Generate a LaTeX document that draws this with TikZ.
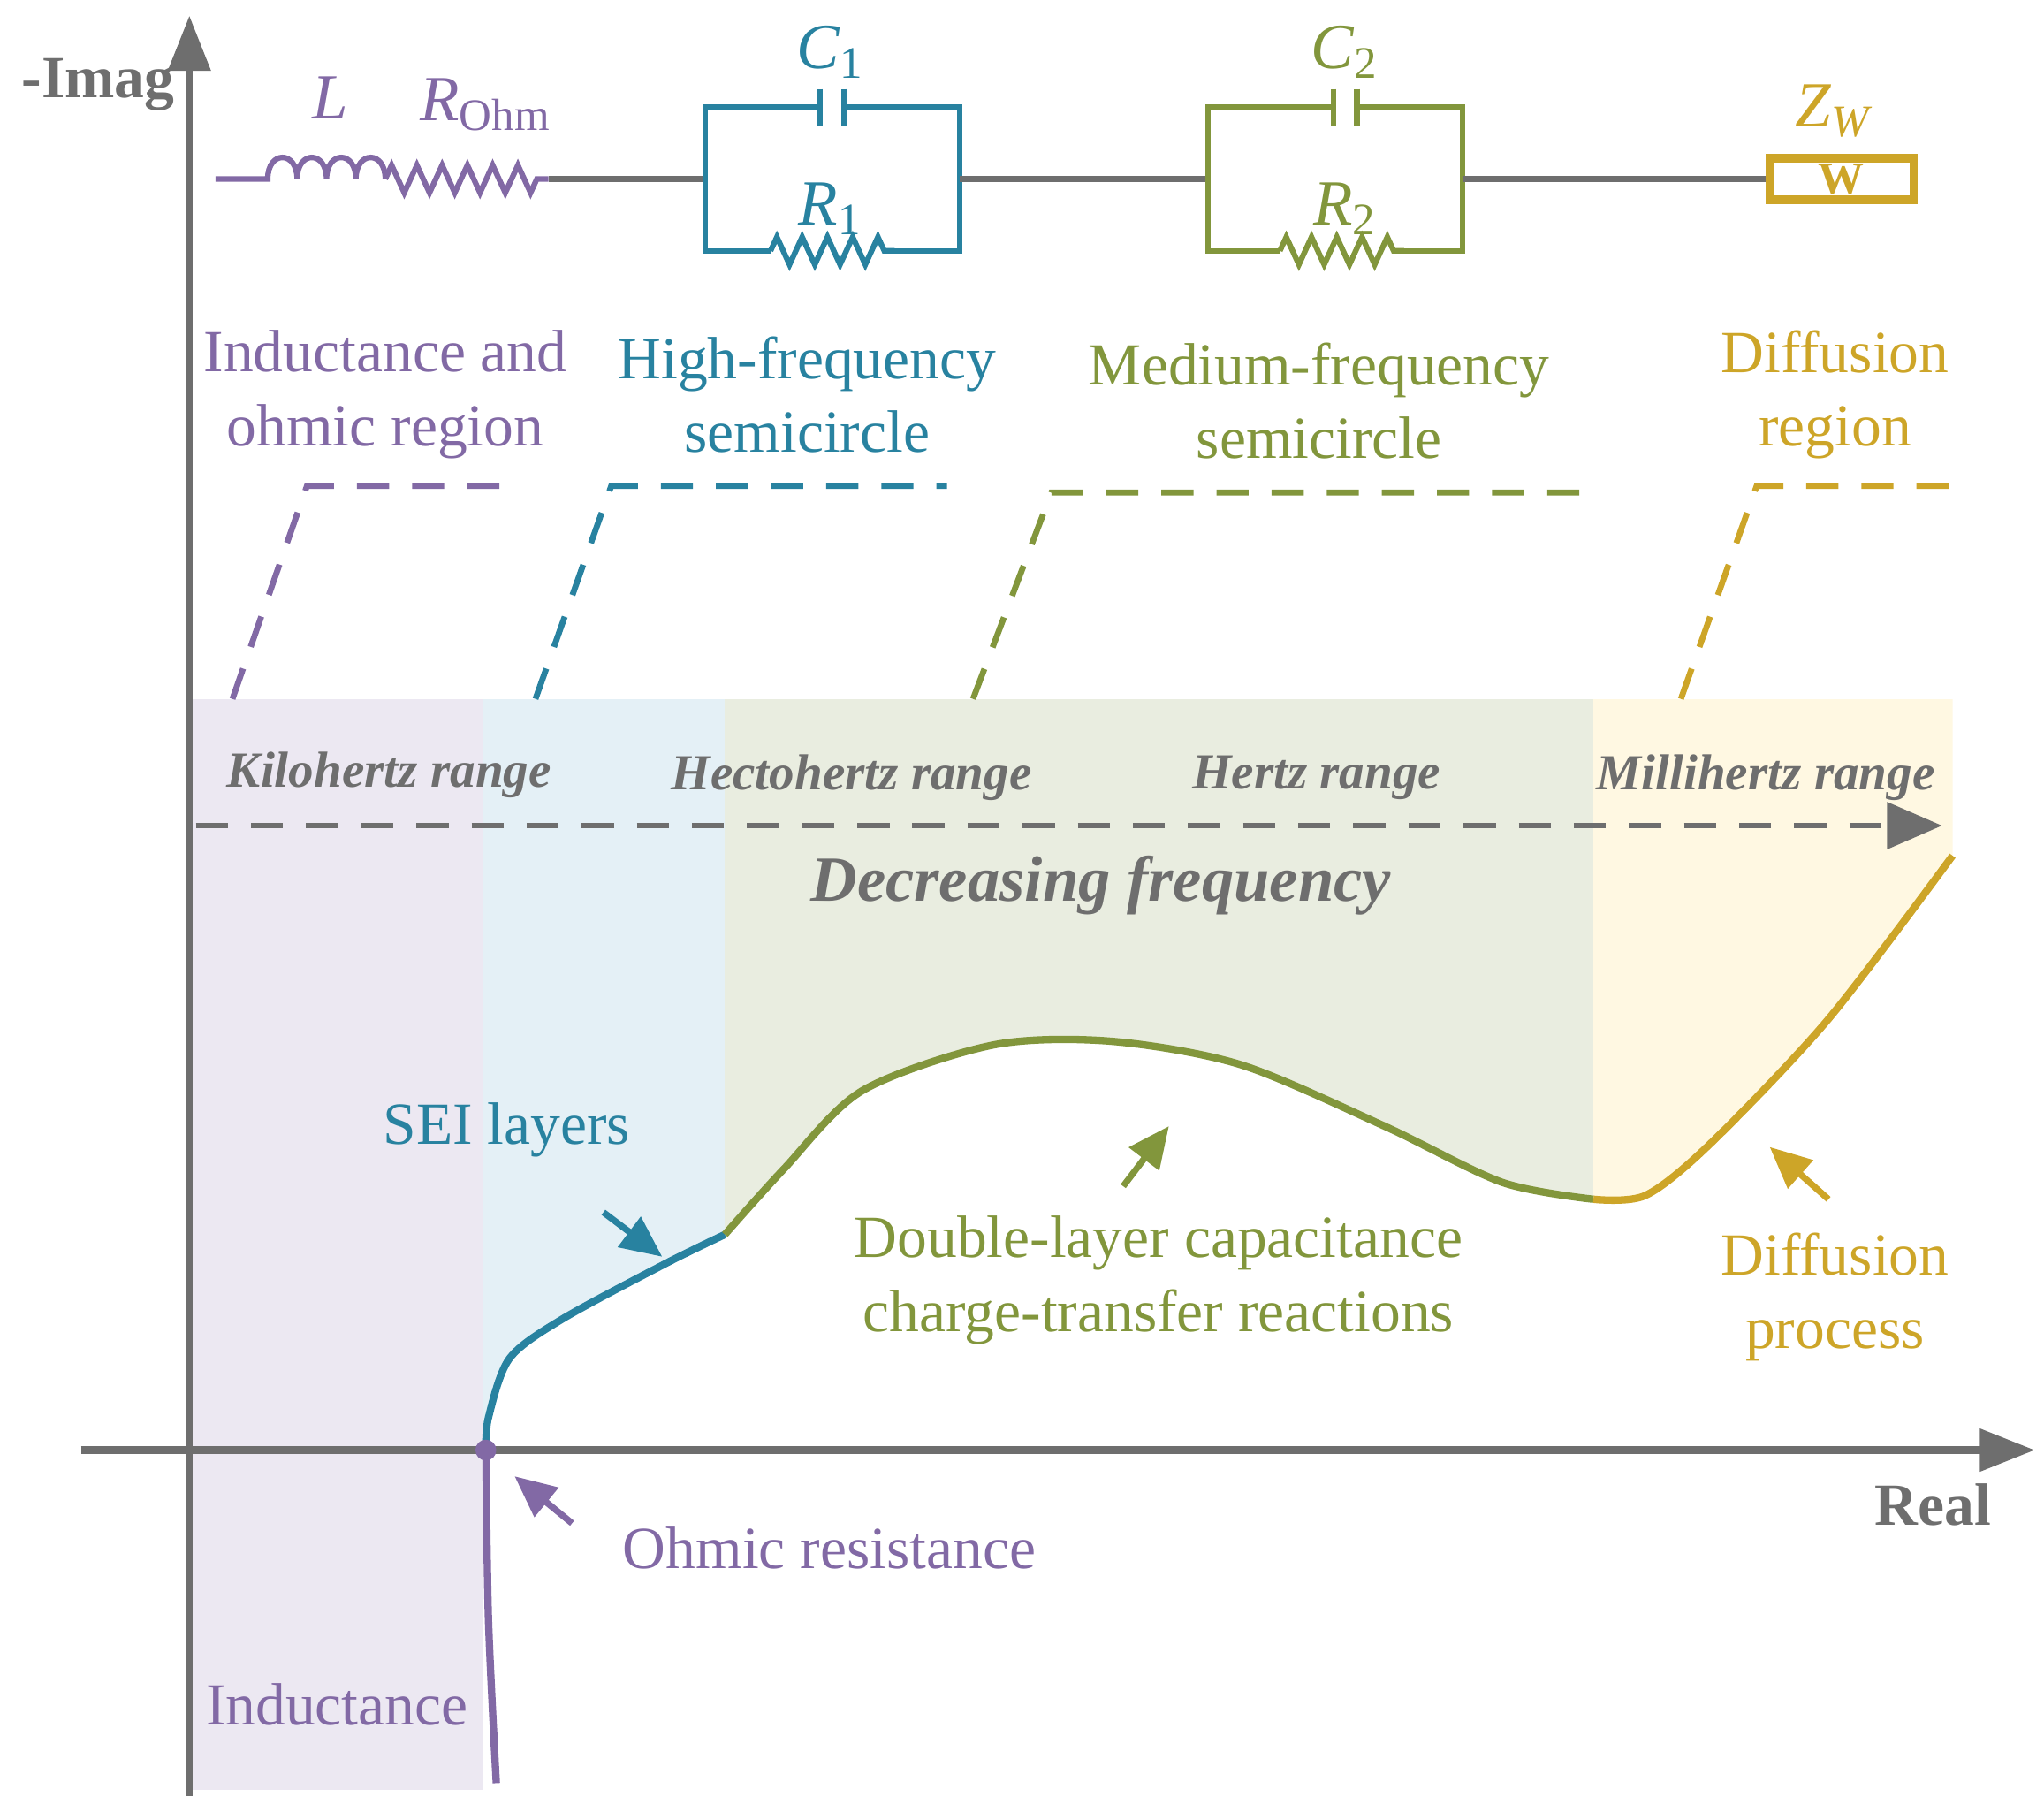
\documentclass[tikz,border=0pt]{standalone}
\usepackage{fontspec}
\setmainfont{Liberation Serif}
\usetikzlibrary{decorations.pathmorphing,arrows.meta}
\definecolor{cpur}{RGB}{130,105,165}
\definecolor{cteal}{RGB}{40,130,160}
\definecolor{cgrn}{RGB}{130,150,60}
\definecolor{cgold}{RGB}{205,165,40}
\definecolor{cgray}{RGB}{110,110,110}
\definecolor{fpur}{RGB}{236,232,242}
\definecolor{fteal}{RGB}{228,240,246}
\definecolor{fgrn}{RGB}{233,237,224}
\definecolor{fgold}{RGB}{255,248,226}
\begin{document}
\begin{tikzpicture}[x=0.01cm,y=-0.01cm,
  lbl/.style={font=\fontsize{13}{16}\selectfont,align=center},
  freq/.style={font=\fontsize{11}{13}\selectfont\bfseries\itshape,text=cgray},
  res/.style={decorate,decoration={zigzag,segment length=5.5pt,amplitude=3pt},line width=1.2pt},
  wire/.style={line width=1.2pt},
  dsh/.style={dashed,line width=1.3pt,dash pattern=on 7pt off 5pt},
  arr/.style={-{Triangle[length=9pt,width=8pt]},line width=1.4pt}]
\useasboundingbox (0,0) rectangle (1565,1387);
% shading
\fill[fpur] (145,535) rectangle (370,1370);
\begin{scope}
\clip (370,535) -- (1495,535) -- (1495,655) -- plot[smooth] coordinates {(1495,655)(1400,780)(1310,875)(1260,915)(1220,918)(1150,905)(1060,862)(950,815)(850,797)(760,800)(660,835)(600,895)(555,945)(510,967)(430,1010)(390,1040)(374,1085)(372,1110)} -- (370,1110) -- cycle;
\fill[fteal] (370,535) rectangle (555,1120);
\fill[fgrn] (555,535) rectangle (1220,1120);
\fill[fgold] (1220,535) rectangle (1495,1120);
\end{scope}
% axes
\draw[cgray,line width=1.6pt,-{Triangle[length=12pt,width=9pt]}] (145,1375) -- (145,12) coordinate (ytop);
\draw[cgray,line width=1.6pt,-{Triangle[length=12pt,width=9pt]}] (62,1110) -- (1558,1110) coordinate (xend);
\node[font=\fontsize{13}{16}\selectfont\bfseries,text=cgray] (imag) at (75,65) {-Imag};
\node[font=\fontsize{13}{16}\selectfont\bfseries,text=cgray] (real) at (1480,1152) {Real};
% curve
\draw[cpur,line width=1.6pt] plot[smooth] coordinates {(380,1365)(374,1240)(372,1110)};
\draw[cteal,line width=1.6pt] plot[smooth] coordinates {(372,1110)(374,1085)(390,1040)(430,1010)(510,967)(555,945)};
\draw[cgrn,line width=1.6pt] plot[smooth] coordinates {(555,945)(600,895)(660,835)(760,800)(850,797)(950,815)(1060,862)(1150,905)(1220,918)};
\draw[cgold,line width=1.6pt] plot[smooth] coordinates {(1220,918)(1260,915)(1310,875)(1400,780)(1495,655)};
\fill[cpur] (372,1110) circle (8) node (ohm) {};
% circuit
\coordinate (w0) at (165,137); \coordinate (w1) at (205,137);
\draw[cpur,wire] (w0) -- (w1)
  .. controls (205,115) and (227.5,115) .. (227.5,137)
  .. controls (227.5,115) and (250,115) .. (250,137)
  .. controls (250,115) and (272.5,115) .. (272.5,137)
  .. controls (272.5,115) and (295,115) .. (295,137) coordinate (w2);
\draw[cpur,res] (w2) -- (420,137) coordinate (w3);
\draw[cgray,wire] (w3) -- (540,137) coordinate (a1);
\draw[cteal,wire] (a1) -- (540,82) -- (628,82) (646,82) -- (735,82) -- (735,137) coordinate (a2);
\draw[cteal,wire] (628,68) -- (628,96) (646,68) -- (646,96);
\draw[cteal,wire] (a1) -- (540,192) -- (590,192);
\draw[cteal,res] (590,192) -- (685,192);
\draw[cteal,wire] (685,192) -- (735,192) -- (a2);
\draw[cgray,wire] (a2) -- (925,137) coordinate (b1);
\draw[cgrn,wire] (b1) -- (925,82) -- (1021,82) (1039,82) -- (1120,82) -- (1120,137) coordinate (b2);
\draw[cgrn,wire] (1021,68) -- (1021,96) (1039,68) -- (1039,96);
\draw[cgrn,wire] (b1) -- (925,192) -- (980,192);
\draw[cgrn,res] (980,192) -- (1075,192);
\draw[cgrn,wire] (1075,192) -- (1120,192) -- (b2);
\node[draw=cgold,line width=1.8pt,minimum width=1.1cm,minimum height=0.32cm,inner sep=0pt,text=cgold,font=\fontsize{10}{12}\selectfont\bfseries] (zw) at (1410,137) {W};
\draw[cgray,wire] (b2) -- (zw.west);
\node[text=cpur,font=\fontsize{14}{16}\selectfont\itshape] (L) at (253,75) {L};
\node[text=cpur,font=\fontsize{14}{16}\selectfont] (Rohm) at (372,80) {\textit{R}\textsubscript{Ohm}};
\node[text=cteal,font=\fontsize{14}{16}\selectfont] (C1) at (636,40) {\textit{C}\textsubscript{1}};
\node[text=cteal,font=\fontsize{14}{16}\selectfont] (R1) at (636,160) {\textit{R}\textsubscript{1}};
\node[text=cgrn,font=\fontsize{14}{16}\selectfont] (C2) at (1030,40) {\textit{C}\textsubscript{2}};
\node[text=cgrn,font=\fontsize{14}{16}\selectfont] (R2) at (1030,160) {\textit{R}\textsubscript{2}};
\node[text=cgold,font=\fontsize{14}{16}\selectfont] (ZW) at (1405,85) {\textit{Z}\textsubscript{\textit{W}}};
% region labels
\node[lbl,text=cpur] (t1) at (295,302) {Inductance and\\ohmic region};
\node[lbl,text=cteal] (t2) at (618,302) {High-frequency\\semicircle};
\node[lbl,text=cgrn] (t3) at (1010,307) {Medium-frequency\\semicircle};
\node[lbl,text=cgold] (t4) at (1405,302) {Diffusion\\region};
\draw[cpur,dsh] (178,535) -- (235,372) -- (385,372);
\draw[cteal,dsh] (410,535) -- (468,372) -- (725,372);
\draw[cgrn,dsh] (745,535) -- (805,377) -- (1215,377);
\draw[cgold,dsh] (1287,535) -- (1345,372) -- (1495,372);
% frequency
\node[freq] (k) at (298,593) {Kilohertz range};
\node[freq] (h) at (652,595) {Hectohertz range};
\node[freq] (hz) at (1008,595) {Hertz range};
\node[freq] (m) at (1352,595) {Millihertz range};
\coordinate (d0) at (150,632); \coordinate (d1) at (1487,632);
\draw[cgray,dsh] (d0) -- (1460,632);
\draw[cgray,line width=1.3pt,-{Triangle[length=12pt,width=10pt]}] (1455,632) -- (d1);
\node[font=\fontsize{14}{17}\selectfont\bfseries\itshape,text=cgray] (dec) at (843,678) {Decreasing frequency};
% annotations
\node[lbl,text=cteal] (sei) at (388,865) {SEI layers};
\coordinate (s0) at (462,928); \coordinate (s1) at (507,962);
\draw[cteal,arr] (s0) -- (s1);
\node[lbl,text=cgrn] (dl) at (887,980) {Double-layer capacitance\\charge-transfer reactions};
\coordinate (g0) at (860,908); \coordinate (g1) at (895,862);
\draw[cgrn,arr] (g0) -- (g1);
\node[lbl,text=cgold] (dp) at (1405,993) {Diffusion\\process};
\coordinate (y0) at (1400,918); \coordinate (y1) at (1355,878);
\draw[cgold,arr] (y0) -- (y1);
\node[lbl,text=cpur] (or) at (635,1185) {Ohmic resistance};
\coordinate (o0) at (438,1166); \coordinate (o1) at (394,1130);
\draw[cpur,arr] (o0) -- (o1);
\node[lbl,text=cpur] (ind) at (258,1305) {Inductance};
\end{tikzpicture}
\end{document}
